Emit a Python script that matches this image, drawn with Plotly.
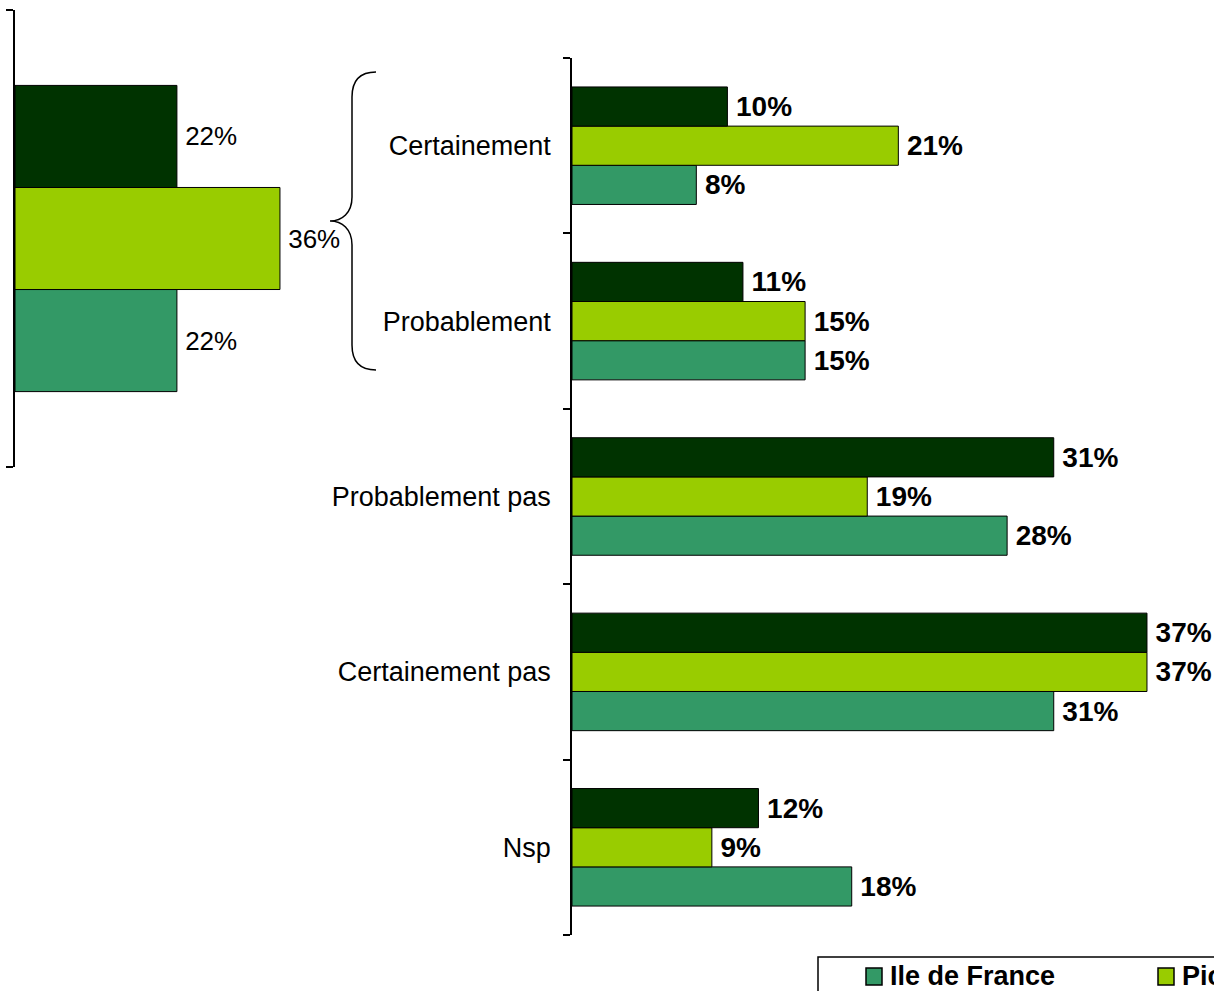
import plotly.graph_objects as go

# ---- data ----
categories = ["Certainement", "Probablement", "Probablement pas", "Certainement pas", "Nsp"]
series_names = ["Ile de France", "Picardie", "Ensemble"]
ile_de_france = [8, 15, 28, 31, 18]
picardie = [21, 15, 19, 37, 9]
ensemble = [10, 11, 31, 37, 12]

left_values = {"Ile de France": 22, "Picardie": 36, "Ensemble": 22}

colors = {"Ile de France": "#339966", "Picardie": "#99CC00", "Ensemble": "#003300"}

W, H = 1214, 991
FONT = "Liberation Sans, Arial, sans-serif"
PAD = "\u2009"  # thin space: small gap between bar end and its label


def px(x):
    return x / W


def py(y):
    return 1 - y / H


fig = go.Figure()

# main chart (bottom-to-top category order so that first trace is lowest in the group)
cat_order = list(reversed(categories))
main_series = {"Ile de France": ile_de_france, "Picardie": picardie, "Ensemble": ensemble}
for name in series_names:
    vals = main_series[name]
    fig.add_trace(go.Bar(
        y=categories, x=vals, orientation="h", name=name,
        marker=dict(color=colors[name], line=dict(color="black", width=1)),
        text=[f"{PAD}{v}%" for v in vals], textposition="outside",
        textfont=dict(family=FONT, size=28, color="black", weight="bold"),
        cliponaxis=False, constraintext="none",
        xaxis="x", yaxis="y", showlegend=False,
    ))

# left summary chart
for name in series_names:
    v = left_values[name]
    fig.add_trace(go.Bar(
        y=[""], x=[v], orientation="h", name=name,
        marker=dict(color=colors[name], line=dict(color="black", width=1)),
        text=[f"{PAD}{v}%"], textposition="outside",
        textfont=dict(family=FONT, size=26, color="black"),
        cliponaxis=False, constraintext="none",
        xaxis="x2", yaxis="y2", showlegend=False,
    ))

axis_common = dict(showgrid=False, zeroline=False, fixedrange=True)

# brace path
pts = [(376, 72), (360, 72), (352, 80), (352, 97), (352, 197), (352, 213), (342, 221), (330, 221),
       (342, 221), (352, 229), (352, 245), (352, 345), (352, 362), (360, 370), (376, 370)]
P = [(px(a), py(b)) for a, b in pts]
path = (f"M {P[0][0]} {P[0][1]} C {P[1][0]} {P[1][1]}, {P[2][0]} {P[2][1]}, {P[3][0]} {P[3][1]} "
        f"L {P[4][0]} {P[4][1]} C {P[5][0]} {P[5][1]}, {P[6][0]} {P[6][1]}, {P[7][0]} {P[7][1]} "
        f"C {P[8][0]} {P[8][1]}, {P[9][0]} {P[9][1]}, {P[10][0]} {P[10][1]} "
        f"L {P[11][0]} {P[11][1]} C {P[12][0]} {P[12][1]}, {P[13][0]} {P[13][1]}, {P[14][0]} {P[14][1]}")

shapes = [
    dict(type="path", path=path, xref="paper", yref="paper", line=dict(color="black", width=1.5)),
    # legend box (extends beyond the visible area)
    dict(type="rect", xref="paper", yref="paper", x0=px(818), x1=px(1400), y0=py(1030), y1=py(957),
         line=dict(color="black", width=1.5), fillcolor="white"),
    dict(type="rect", xref="paper", yref="paper", x0=px(866), x1=px(882), y0=py(985), y1=py(968),
         line=dict(color="black", width=1.5), fillcolor=colors["Ile de France"]),
    dict(type="rect", xref="paper", yref="paper", x0=px(1158), x1=px(1174), y0=py(985), y1=py(968),
         line=dict(color="black", width=1.5), fillcolor=colors["Picardie"]),
]

annotations = [
    dict(text="Ile de France", xref="paper", yref="paper", x=px(888), y=py(976), xanchor="left",
         yanchor="middle", showarrow=False, font=dict(family=FONT, size=27, color="black", weight="bold")),
    dict(text="Picardie", xref="paper", yref="paper", x=px(1180), y=py(976), xanchor="left",
         yanchor="middle", showarrow=False, font=dict(family=FONT, size=27, color="black", weight="bold")),
]

fig.update_layout(
    width=W, height=H,
    margin=dict(l=0, r=0, t=0, b=0),
    paper_bgcolor="white", plot_bgcolor="white",
    barmode="group", bargap=0.33, bargroupgap=0,
    font=dict(family=FONT, size=27, color="black"),
    xaxis=dict(domain=[px(572), px(572 + 15.54 * 40)], range=[0, 40], showline=False,
               showticklabels=False, ticks="", anchor="y", **axis_common),
    yaxis=dict(domain=[py(935), py(58)], type="category", categoryorder="array", categoryarray=cat_order,
               showline=True, linecolor="black", linewidth=1.5, ticks="outside", ticklen=7,
               tickwidth=1.5, tickcolor="black", tickson="boundaries", ticklabelstandoff=14,
               tickfont=dict(family=FONT, size=27, color="black"), anchor="x", **axis_common),
    xaxis2=dict(domain=[px(15), px(15 + 7.36 * 40)], range=[0, 40], showline=False,
                showticklabels=False, ticks="", anchor="y2", **axis_common),
    yaxis2=dict(domain=[py(467), py(10)], type="category", showline=True, linecolor="black",
                linewidth=1.5, ticks="outside", ticklen=7, tickwidth=1.5, tickcolor="black",
                tickson="boundaries", showticklabels=False, anchor="x2", **axis_common),
    shapes=shapes,
    annotations=annotations,
)

fig.write_html(
    "out.html",
    config={"displayModeBar": False},
    post_script="document.body.style.margin='0px';document.body.style.overflow='hidden';",
)
